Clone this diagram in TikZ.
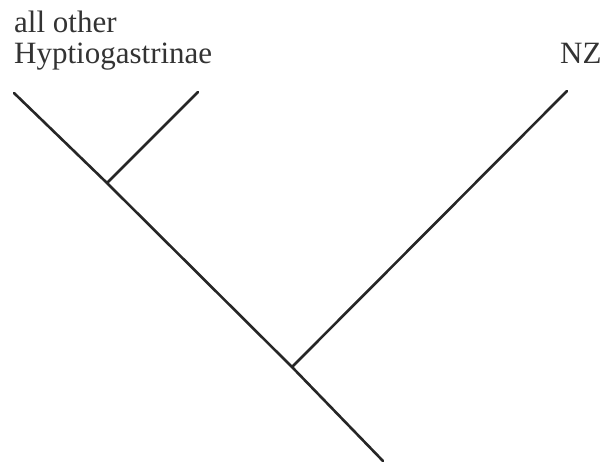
\documentclass[tikz,border=0pt]{standalone}
\usepackage{fontspec}
\setmainfont{Liberation Serif}
\usetikzlibrary{positioning}

\tikzset{
    branch/.style={line width=2.6pt, line cap=round, black!85},
    taxon/.style={inner sep=0pt, anchor=base west, font=\fontsize{31}{31}\selectfont, black!80}
}

\begin{document}
\begin{tikzpicture}[x=1pt, y=-1pt]

    % Page frame
    \useasboundingbox (0,0) rectangle (608,463);

    % Taxon labels
    \node[taxon] (allother) at (14,32) {all other};
    \node[taxon] (hyptio) at (14,63) {Hyptiogastrinae};
    \node[taxon] (nz) at (560,63) {NZ};

    % Tips and inner nodes of the tree
    \coordinate (root) at (383,461);
    \coordinate (nodeNZ) at (292,367);
    \coordinate (nodeH) at (107,183);
    \coordinate (tipA) at (14,93);
    \coordinate (tipB) at (198,92);
    \coordinate (tipNZ) at (567,91);

    % Main stem
    \draw[branch] (root) -- (nodeNZ) -- (nodeH) -- (tipA);

    % Short branch
    \draw[branch] (nodeH) -- (tipB);

    % NZ branch
    \draw[branch] (nodeNZ) -- (tipNZ);

\end{tikzpicture}
\end{document}
